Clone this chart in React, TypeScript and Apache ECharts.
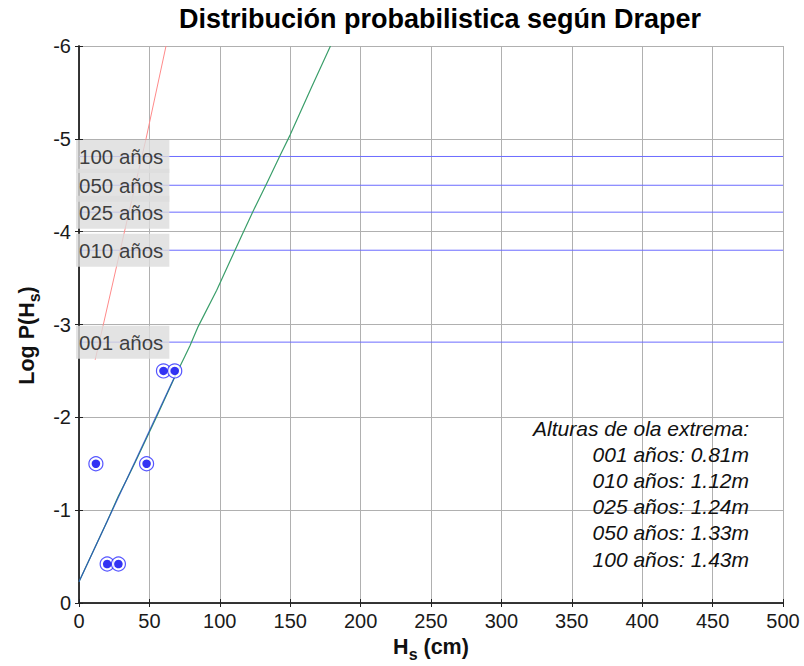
import { useEffect, useRef } from "react";
import * as echarts from "echarts";

// Return periods (years) and the log-probability level of each
const periods = ["001", "010", "025", "050", "100"];
const periodLogP = [-2.81, -3.8, -4.21, -4.5, -4.81];
const extremeHeights = ["0.81", "1.12", "1.24", "1.33", "1.43"];
const levelSpan = [0, 500];

// Observed storms: Hs (cm) and log P(Hs)
const obsHs = [20, 28, 12, 48, 60, 68];
const obsLogP = [-0.42, -0.42, -1.5, -1.5, -2.5, -2.5];

// Fitted line over the observed range
const fitHs = [0, 68];
const fitLogP = [-0.23, -2.44];

// Draper distribution curve
const draperHs = [0, 20, 27.9, 33.9, 40, 55.2, 68.2, 75.3, 78.8, 84.7, 97.8, 110.8, 115.6, 123.3, 133.3, 142.8, 149.9, 165, 178.6];
const draperLogP = [-0.23, -0.88, -1.15, -1.33, -1.52, -2.01, -2.44, -2.66, -2.77, -2.98, -3.37, -3.8, -3.96, -4.21, -4.52, -4.82, -5.04, -5.55, -6.0];

// Secondary curve
const redHs = [11.5, 17.3, 32.6, 47.6, 61.8];
const redLogP = [-2.62, -3.0, -4.02, -5.0, -6.0];

const FONT = "'Liberation Sans', Arial, Helvetica, sans-serif";

const zip = (xs: number[], ys: number[]) => xs.map((x, i) => [x, ys[i]]);

export default function App() {
  const ref = useRef<HTMLDivElement>(null);

  useEffect(() => {
    if (!ref.current) return;
    const chart = echarts.init(ref.current, undefined, { renderer: "svg" });

    const gridLeft = 79;
    const gridTop = 46;
    const gridWidth = 704;
    const gridHeight = 557;

    const levelSeries = periods.map((p, i) => ({
      type: "line" as const,
      name: p,
      data: levelSpan.map((x) => [x, periodLogP[i]]),
      symbol: "none",
      lineStyle: { color: "#6b6bff", width: 1 },
      z: 2,
    }));

    const annotation = [
      "Alturas de ola extrema:",
      ...periods.map((p, i) => `${p} años: ${extremeHeights[i]}m`),
    ].join("\n");

    const axisLineStyle = { color: "#2a2a2a", width: 1.5 };
    const tickStyle = { show: true, inside: true, length: 4, lineStyle: { color: "#222", width: 1 } };
    const nameRich = {
      b: { fontSize: 21.5, fontWeight: "bold", fontFamily: FONT, color: "#111", lineHeight: 30, verticalAlign: "middle" },
      s: { fontSize: 16, fontWeight: "bold", fontFamily: FONT, color: "#111", lineHeight: 10, verticalAlign: "bottom" },
    };

    chart.setOption({
      animation: false,
      backgroundColor: "#ffffff",
      grid: {
        left: gridLeft,
        top: gridTop,
        width: gridWidth,
        height: gridHeight,
        containLabel: false,
        outerBoundsMode: "none",
      },
      xAxis: [
        {
          type: "value",
          min: 0,
          max: 500,
          interval: 50,
          position: "bottom",
          axisLine: { show: true, lineStyle: axisLineStyle },
          axisTick: tickStyle,
          axisLabel: {
            show: true,
            margin: 8,
            fontSize: 20,
            fontFamily: FONT,
            color: "#1a1a1a",
            showMinLabel: true,
            showMaxLabel: true,
          },
          splitLine: { show: true, lineStyle: { color: "#b0b0b0", width: 1 } },
          name: "{b|H}{s|s}{b| (cm)}",
          nameLocation: "middle",
          nameGap: 29,
          nameTextStyle: { rich: nameRich },
        },
        {
          type: "value",
          min: 0,
          max: 500,
          interval: 50,
          position: "top",
          axisLine: { show: true, lineStyle: axisLineStyle },
          axisTick: tickStyle,
          axisLabel: { show: false },
          splitLine: { show: false },
        },
      ],
      yAxis: [
        {
          type: "value",
          min: -6,
          max: 0,
          interval: 1,
          inverse: true,
          position: "left",
          axisLine: { show: true, lineStyle: axisLineStyle },
          axisTick: tickStyle,
          axisLabel: {
            show: true,
            margin: 8,
            fontSize: 20,
            fontFamily: FONT,
            color: "#1a1a1a",
            showMinLabel: true,
            showMaxLabel: true,
          },
          splitLine: { show: true, lineStyle: { color: "#b0b0b0", width: 1 } },
          name: "{b|Log P(H}{s|s}{b|)}",
          nameLocation: "middle",
          nameGap: 33,
          nameTextStyle: { rich: nameRich, padding: [0, 22, 0, 0] },
        },
        {
          type: "value",
          min: -6,
          max: 0,
          interval: 1,
          inverse: true,
          position: "right",
          axisLine: { show: true, lineStyle: axisLineStyle },
          axisTick: tickStyle,
          axisLabel: { show: false },
          splitLine: { show: false },
        },
      ],
      graphic: [
        {
          type: "text",
          x: 440,
          y: 19,
          style: {
            text: "Distribución probabilistica según Draper",
            font: `bold 27px ${FONT}`,
            fill: "#000",
            textAlign: "center",
            textVerticalAlign: "middle",
          },
        },
        {
          type: "text",
          x: 749,
          y: 415,
          z: 10,
          style: {
            text: annotation,
            font: `italic 21px ${FONT}`,
            fill: "#111",
            textAlign: "right",
            textVerticalAlign: "top",
            lineHeight: 26.2,
          },
        },
      ],
      series: [
        ...levelSeries,
        {
          type: "line",
          name: "red",
          data: zip(redHs, redLogP),
          symbol: "none",
          lineStyle: { color: "#ff8a8a", width: 1 },
          z: 2,
        },
        {
          type: "line",
          name: "draper",
          data: zip(draperHs, draperLogP),
          symbol: "none",
          lineStyle: { color: "#3a9e6a", width: 1.2 },
          z: 3,
        },
        {
          type: "line",
          name: "fit",
          data: zip(fitHs, fitLogP),
          symbol: "none",
          lineStyle: { color: "#2448c8", width: 1.2, opacity: 0.75 },
          z: 3,
        },
        {
          type: "scatter",
          name: "obsRing",
          data: zip(obsHs, obsLogP),
          symbol: "circle",
          symbolSize: 14,
          itemStyle: { color: "#ffffff", borderColor: "#2b2bff", borderWidth: 1.2 },
          z: 4,
        },
        {
          type: "scatter",
          name: "obsDot",
          data: zip(obsHs, obsLogP),
          symbol: "circle",
          symbolSize: 8.5,
          itemStyle: { color: "#0000f0" },
          z: 5,
        },
        {
          type: "scatter",
          name: "periodLabels",
          data: periods.map((p, i) => ({ name: `${p} años`, value: [0, periodLogP[i]] })),
          symbolSize: 0,
          z: 8,
          label: {
            show: true,
            position: "right",
            distance: -3,
            formatter: (d: any) => d.name,
            fontSize: 20.5,
            fontFamily: FONT,
            color: "#111",
            backgroundColor: "#dcdcdc",
            padding: [5, 6, 5, 3],
            lineHeight: 23,
          },
        },
      ],
    });

    return () => chart.dispose();
  }, []);

  return (
    <div
      ref={ref}
      style={{ position: "fixed", left: 0, top: 0, width: 804, height: 666, background: "#fff" }}
    />
  );
}
